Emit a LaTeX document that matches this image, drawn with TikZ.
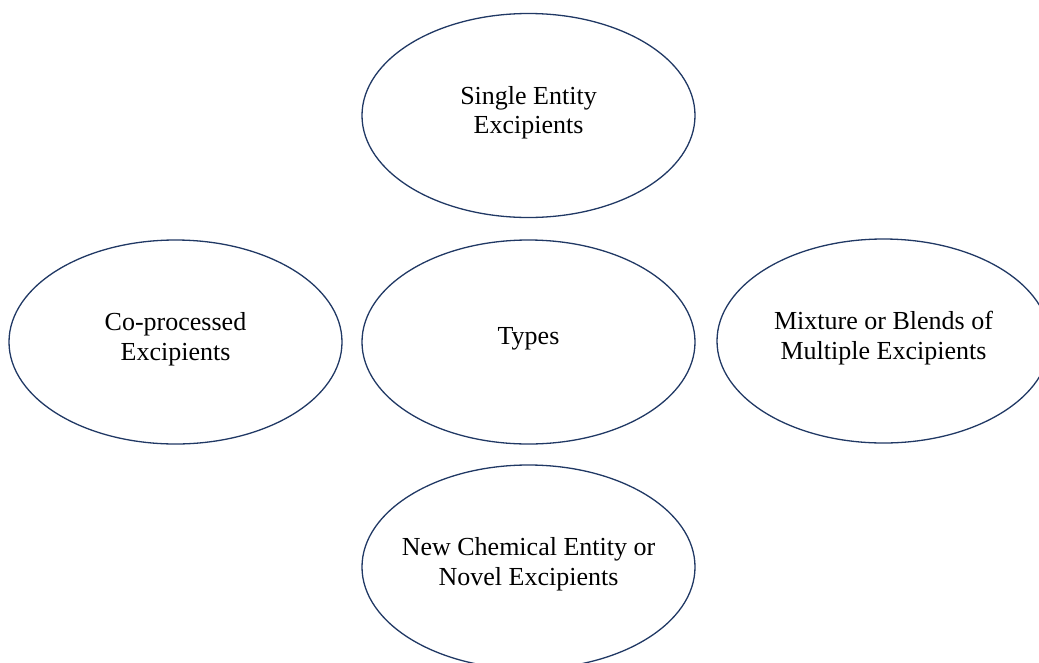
\documentclass[tikz,border=0pt]{standalone}
\usepackage{fontspec}
\setmainfont{Liberation Serif}
\usetikzlibrary{shapes.geometric}
\definecolor{navy}{HTML}{203864}
\tikzset{
  typebox/.style={ellipse, draw=navy, line width=1.3pt, minimum width=333pt,
    minimum height=204pt, inner sep=0pt},
  typetext/.style={align=center, inner sep=0pt, yshift=3pt,
    font=\fontsize{26pt}{29.5pt}\selectfont}
}
\begin{document}
\begin{tikzpicture}[x=1pt,y=-1pt]
  \useasboundingbox (0,0) rectangle (1039,662);
  \clip (0,0) rectangle (1039,662);
  % outlines
  \node[typebox] (single) at (528.5,115.5) {};
  \node[typebox] (types) at (528.5,342) {};
  \node[typebox] (coproc) at (175.5,342) {};
  \node[typebox] (mixture) at (883.5,341) {};
  \node[typebox] (novel) at (528.5,567) {};
  % labels
  \node[typetext] (singlet) at (single.center) {Single Entity\\Excipients};
  \node[typetext] (typest) at (types.center) {Types};
  \node[typetext] (coproct) at (coproc.center) {Co-processed\\Excipients};
  \node[typetext] (mixturet) at (mixture.center) {Mixture or Blends of\\Multiple Excipients};
  \node[typetext] (novelt) at (novel.center) {New Chemical Entity or\\Novel Excipients};
\end{tikzpicture}
\end{document}
